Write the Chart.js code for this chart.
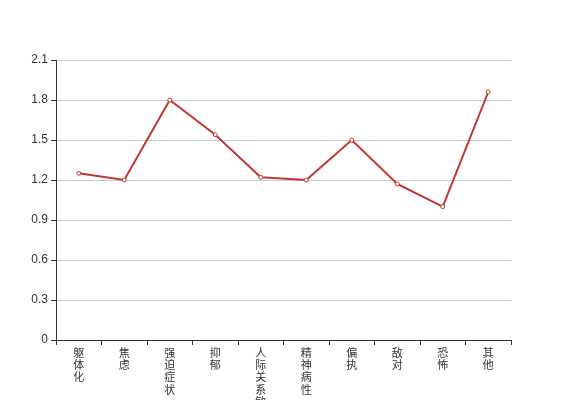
<!DOCTYPE html>
<html>
<head>
<meta charset="utf-8">
<script src="https://cdn.jsdelivr.net/npm/chart.js@4"></script>
<style>
  html, body { margin: 0; padding: 0; background: #fff; }
  #wrap { width: 567px; height: 400px; }
</style>
</head>
<body>
<div id="wrap"><canvas id="canvas_scl"></canvas></div>
<script>
// 因子名称（竖排显示）
var categories = ['躯体化', '焦虑', '强迫症状', '抑郁', '人际关系敏感', '精神病性', '偏执', '敌对', '恐怖', '其他'];
var scores = [1.25, 1.2, 1.8, 1.54, 1.22, 1.2, 1.5, 1.17, 1.0, 1.86];
var yMin = 0;
var yMax = 2.1;
var yStep = 0.3;

const ctx = document.getElementById('canvas_scl').getContext('2d');
var chart1 = new Chart(ctx, {
    type: 'line',
    data: {
        labels: categories.map(c => c.split('')),
        datasets: [
            {
                label: '得分',
                data: scores,
                borderColor: '#c23531',
                backgroundColor: '#fff',
                borderWidth: 2,
                pointRadius: 2,
                pointBorderWidth: 1,
                pointBorderColor: '#c23531',
                pointBackgroundColor: '#fff',
                tension: 0,
                fill: false
            }
        ]
    },
    options: {
        responsive: true,
        maintainAspectRatio: false,
        animation: false,
        layout: { padding: { top: 60, right: 56, left: 0, bottom: 0 } },
        plugins: {
            legend: { display: false },
            tooltip: { enabled: false }
        },
        scales: {
            x: {
                offset: true,
                afterFit: s => { s.height = 60; },
                border: { color: '#333', width: 1 },
                grid: { drawOnChartArea: false, offset: true, tickLength: 5, color: '#333' },
                ticks: {
                    maxRotation: 0,
                    autoSkip: false,
                    padding: 2,
                    color: '#333',
                    font: { size: 11, family: '"Noto Sans CJK SC", sans-serif', lineHeight: 1.1 }
                }
            },
            y: {
                min: yMin,
                max: yMax,
                afterFit: s => { s.width = 56; },
                border: { color: '#333', width: 1 },
                grid: { color: '#ccc', tickColor: '#333', tickLength: 5 },
                ticks: {
                    stepSize: yStep,
                    padding: 3,
                    color: '#333',
                    font: { size: 12, family: '"Liberation Sans", sans-serif' },
                    callback: v => String(+v.toFixed(1))
                }
            }
        }
    }
});
</script>
</body>
</html>
